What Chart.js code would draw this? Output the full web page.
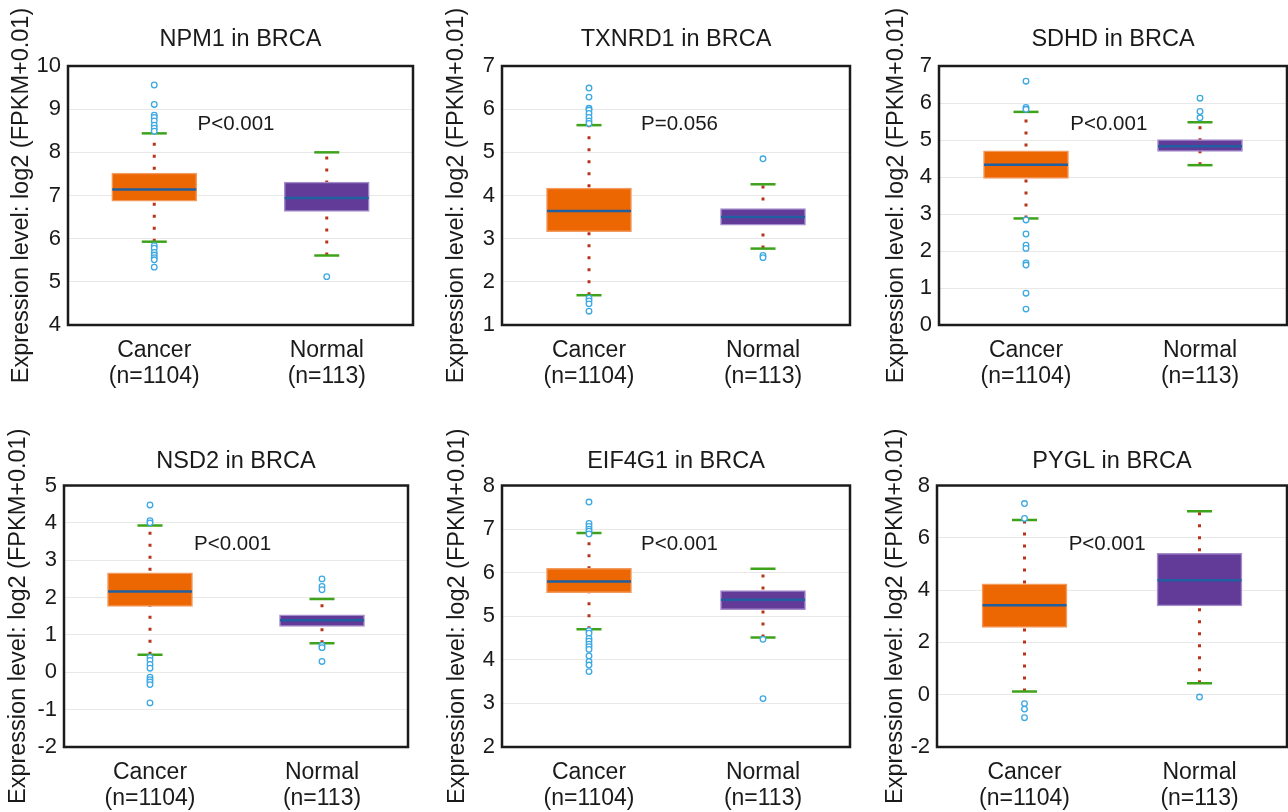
<!DOCTYPE html>
<html>
<head>
<meta charset="utf-8">
<script src="https://cdn.jsdelivr.net/npm/chart.js@4.4.1/dist/chart.umd.min.js"></script>
<style>
  html, body { margin: 0; padding: 0; background: #fff; }
  body { position: relative; width: 1288px; height: 812px; overflow: hidden; }
</style>
</head>
<body>
<script>
// data
const categories = ['Cancer', 'Normal'];
const sampleSizes = ['(n=1104)', '(n=113)'];
const genes = ['NPM1', 'TXNRD1', 'SDHD', 'NSD2', 'EIF4G1', 'PYGL'];
const pValues = ['P<0.001', 'P=0.056', 'P<0.001', 'P<0.001', 'P<0.001', 'P<0.001'];
const yMin = [4, 1, 0, -2, 2, -2];
const yMax = [10, 7, 7, 5, 8, 8];
const yStep = [1, 1, 1, 1, 1, 2];

// each entry: [Cancer, Normal]
const lowerWhisker = [[5.93, 5.61], [1.69, 2.77], [2.88, 4.32], [0.47, 0.78], [4.70, 4.51], [0.12, 0.44]];
const q1 = [[6.87, 6.63], [3.16, 3.31], [3.96, 4.69], [1.76, 1.23], [5.54, 5.15], [2.57, 3.40]];
const median = [[7.14, 6.94], [3.64, 3.50], [4.33, 4.83], [2.16, 1.39], [5.80, 5.38], [3.42, 4.38]];
const q3 = [[7.52, 7.31], [4.17, 3.70], [4.71, 5.01], [2.66, 1.54], [6.10, 5.59], [4.24, 5.41]];
const upperWhisker = [[8.44, 8.00], [5.63, 4.26], [5.76, 5.48], [3.93, 1.96], [6.91, 6.09], [6.68, 7.02]];

const cancerOutliers = [
    [9.56, 9.11, 8.86, 8.81, 8.73, 8.63, 8.56, 8.49, 5.84, 5.78, 5.68, 5.62, 5.56, 5.51, 5.34],
    [6.49, 6.28, 6.02, 5.98, 5.90, 5.81, 5.73, 5.67, 1.62, 1.56, 1.49, 1.32],
    [6.59, 5.88, 5.83, 2.84, 2.46, 2.16, 2.07, 1.68, 1.62, 0.86, 0.43],
    [4.48, 4.06, 4.00, 0.40, 0.32, 0.21, 0.11, -0.13, -0.20, -0.26, -0.33, -0.82],
    [7.62, 7.13, 7.06, 7.00, 6.95, 6.89, 4.67, 4.61, 4.49, 4.43, 4.36, 4.30, 4.24, 4.09, 3.96, 3.88, 3.73],
    [7.31, 6.74, -0.34, -0.55, -0.88]
];
const normalOutliers = [
    [5.12],
    [4.85, 2.61, 2.56],
    [6.13, 5.77, 5.60],
    [2.50, 2.30, 2.21, 0.72, 0.66, 0.29],
    [4.47, 3.11],
    [-0.09]
];

// panel placement on the page
const panels = [
    { left: 0,   top: 0,   w: 430, h: 400, axisW: 68, padR: 17, tTop: 26.2, tBot: 12.2, xH: 75, yTitle: 22, px: 0.487 },
    { left: 430, top: 0,   w: 430, h: 400, axisW: 72, padR: 10, tTop: 26.2, tBot: 12.2, xH: 75, yTitle: 27, px: 0.51 },
    { left: 860, top: 0,   w: 428, h: 400, axisW: 79, padR: 1,  tTop: 26.2, tBot: 12.2, xH: 75, yTitle: 37, px: 0.488 },
    { left: 0,   top: 405, w: 430, h: 407, axisW: 64, padR: 22, tTop: 43.2, tBot: 9.7,  xH: 65, yTitle: 19, px: 0.49 },
    { left: 430, top: 405, w: 430, h: 407, axisW: 72, padR: 10, tTop: 43.2, tBot: 9.7,  xH: 65, yTitle: 28, px: 0.51 },
    { left: 860, top: 405, w: 428, h: 407, axisW: 77, padR: 1,  tTop: 43.2, tBot: 9.7,  xH: 65, yTitle: 36, px: 0.486 }
];

const FONT = 'Liberation Sans, Arial, Helvetica, sans-serif';
const boxFill = ['#EC6602', '#623B99'];
const boxEdge = ['#F29A5E', '#A58CCB'];

// black frame round the plot + the p-value text
const framePlugin = {
    id: 'frame',
    afterDraw(chart, args, opts) {
        const { ctx, chartArea: a } = chart;
        ctx.save();
        ctx.strokeStyle = '#1b1b1b';
        ctx.lineWidth = 2.5;
        ctx.strokeRect(a.left, a.top, a.width, a.height);
        ctx.fillStyle = '#1a1a1a';
        ctx.font = '20.5px ' + FONT;
        ctx.textAlign = 'center';
        ctx.textBaseline = 'middle';
        ctx.fillText(opts.text, a.left + a.width * opts.fx, a.top + a.height * 0.225);
        ctx.restore();
    }
};

panels.forEach((p, i) => {
    const cv = document.createElement('canvas');
    cv.width = p.w;
    cv.height = p.h;
    cv.style.cssText = `position:absolute;left:${p.left}px;top:${p.top}px;width:${p.w}px;height:${p.h}px`;
    document.body.appendChild(cv);

    const whiskers = categories.map((c, k) => ({
        type: 'line',
        data: [{ x: c, y: lowerWhisker[i][k] }, { x: c, y: upperWhisker[i][k] }],
        borderColor: '#B83418',
        borderWidth: 3,
        borderDash: [3, 9],
        pointRadius: 0,
        order: 4
    }));

    const datasets = [
        ...whiskers,
        {
            type: 'bar',
            data: categories.map((c, k) => [q1[i][k], q3[i][k]]),
            backgroundColor: boxFill,
            borderColor: boxEdge,
            borderWidth: 1.5,
            borderSkipped: false,
            barThickness: 85,
            order: 3
        },
        {
            type: 'line',
            data: categories.map((c, k) => ({ x: c, y: median[i][k] })),
            showLine: false,
            pointStyle: 'line',
            pointRadius: 42,
            pointBorderWidth: 2.5,
            pointBorderColor: '#2060A0',
            order: 2
        },
        {
            type: 'line',
            data: categories.flatMap((c, k) => [
                { x: c, y: lowerWhisker[i][k] },
                { x: c, y: upperWhisker[i][k] }
            ]),
            showLine: false,
            pointStyle: 'line',
            pointRadius: 12.5,
            pointBorderWidth: 2.5,
            pointBorderColor: '#3FA21B',
            order: 1
        },
        {
            type: 'line',
            data: cancerOutliers[i].map(v => ({ x: 'Cancer', y: v }))
                .concat(normalOutliers[i].map(v => ({ x: 'Normal', y: v }))),
            showLine: false,
            pointStyle: 'circle',
            pointRadius: 2.8,
            pointBorderWidth: 1.3,
            pointBorderColor: '#3DA9E3',
            pointBackgroundColor: '#ffffff',
            order: 0
        }
    ];

    new Chart(cv.getContext('2d'), {
        type: 'bar',
        data: { labels: categories, datasets: datasets },
        plugins: [framePlugin],
        options: {
            responsive: false,
            animation: false,
            events: [],
            layout: {
                autoPadding: false,
                padding: { left: 0, right: p.padR, top: 0, bottom: 0 }
            },
            plugins: {
                legend: { display: false },
                tooltip: { enabled: false },
                title: {
                    display: true,
                    fullSize: false,
                    text: genes[i] + ' in BRCA',
                    color: '#1a1a1a',
                    font: { family: FONT, size: 23.5, weight: 'normal', lineHeight: 1.175 },
                    padding: { top: p.tTop, bottom: p.tBot }
                },
                frame: { text: pValues[i], fx: p.px }
            },
            scales: {
                x: {
                    type: 'category',
                    grid: { display: false },
                    border: { display: false },
                    ticks: {
                        padding: 5,
                        color: '#1a1a1a',
                        font: { family: FONT, size: 23, lineHeight: 1.13 },
                        maxRotation: 0,
                        callback: (v, idx) => [categories[idx], sampleSizes[idx]]
                    },
                    afterFit: s => {
                        s.height = p.xH;
                        s.paddingLeft = 0;
                        s.paddingRight = 0;
                    }
                },
                y: {
                    min: yMin[i],
                    max: yMax[i],
                    grid: { color: '#e8e8e8', lineWidth: 1, drawTicks: false },
                    border: { display: false },
                    ticks: {
                        stepSize: yStep[i],
                        padding: 7,
                        color: '#1a1a1a',
                        font: { family: FONT, size: 22 }
                    },
                    title: {
                        display: true,
                        text: 'Expression level: log2 (FPKM+0.01)',
                        color: '#1a1a1a',
                        font: { family: FONT, size: 23.5, lineHeight: 1.2 },
                        padding: { top: p.yTitle - 14.1, bottom: 0 }
                    },
                    afterFit: s => {
                        s.width = p.axisW;
                        s.paddingTop = 0;
                        s.paddingBottom = 0;
                    }
                }
            }
        }
    });
});
</script>
</body>
</html>
